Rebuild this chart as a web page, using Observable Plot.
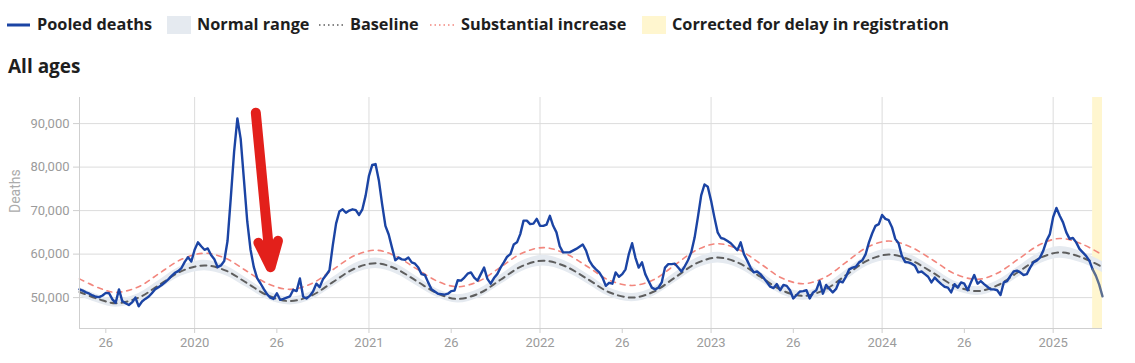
<!DOCTYPE html>
<html><head><meta charset="utf-8">
<script src="https://cdn.jsdelivr.net/npm/d3@7"></script>
<script src="https://cdn.jsdelivr.net/npm/@observablehq/plot@0.6"></script>
<style>
body{margin:0;background:#fff;font-family:"Open Sans",sans-serif;}
#wrap{position:relative;width:1135px;height:363px;overflow:hidden;background:#fff;}
.lg{position:absolute;top:13px;font-weight:700;font-size:16.3px;color:#1e1e1e;line-height:22px;white-space:nowrap;}
.sw{position:absolute;}
#title{position:absolute;left:8px;top:53px;font-weight:700;font-size:19px;color:#1e1e1e;line-height:26px;}
#chart{position:absolute;left:0;top:90px;}
</style></head><body>
<div id="wrap">
  <div id="legend"></div>
  <div id="title">All ages</div>
  <div id="chart"></div>
</div>
<script>
// Week index 0 = ISO week 18 of 2019; weekly pooled deaths (EuroMOMO, all ages)
const pooledDeaths = [
51900,51600,51200,50900,50500,50200,50100,50500,51100,51000,
49600,48800,51900,49200,48700,48300,48900,50000,48000,49100,
49700,50200,51000,51900,52400,52900,53500,54200,55000,55700,
56100,56800,58200,59300,58300,61000,62700,61800,61000,61300,
59800,58800,57000,57400,58400,63000,73000,83500,91200,86500,
77000,67500,61000,57000,54500,53300,52000,50800,50000,49700,
51000,49500,49700,50000,50300,51800,51500,54400,50200,49800,
50400,51400,53200,52400,54200,55200,56300,62000,67000,69800,
70300,69500,70000,70300,70100,69000,70300,73500,78000,80500,
80700,77000,71500,66500,64500,61500,58600,59200,58800,58700,
59200,58100,57800,56900,55400,55200,53500,51900,51400,50900,
50800,50700,50900,51500,51600,54000,53900,54600,55500,55800,
54600,53900,55400,56900,54300,53200,54500,55400,56900,58100,
59400,60000,62200,62700,64600,67700,67700,66900,67000,68100,
66500,66500,66800,68800,66500,65000,61800,60400,60400,60400,
60800,61200,61700,62200,60800,58500,57300,56500,55800,54600,
52700,53400,53200,55800,54800,55400,56500,60000,62500,59200,
56900,58100,55400,53800,52300,51900,52300,53500,56900,57700,
57700,57800,56900,56000,57200,58600,60500,63800,68500,73500,
76000,75500,72300,68500,65000,63700,63500,63000,62500,61700,
60900,62700,60000,58500,56900,55800,56000,55400,54500,53500,
52500,52200,53100,51700,52900,52700,51700,49800,50600,51400,
51500,51700,49800,51200,51700,53800,50900,52900,52000,51200,
52000,53800,53500,54800,56500,56900,57100,58100,58600,60000,
62700,64800,66500,66900,69000,68100,67800,66200,63500,62500,
59600,58200,58100,57800,57300,55800,56000,55400,54800,53500,
54600,53800,53100,52500,52300,51200,53100,52300,53500,53200,
51700,53500,55200,53200,53800,53100,52500,51900,51900,51700,
50600,53500,53800,55000,56000,56200,55800,55200,55400,56900,
58100,58500,59200,60800,63100,64600,68500,70600,68800,67300,
65000,63500,63700,62700,61200,60400,59600,58500,56500,55000,
53000,50300];

// Baseline, normal range and "substantial increase" curves, sampled at these week indexes
const bandWeeks = [0,6,11,18,24.5,31,38,44.5,51,57.5,64,70.5,77,83.5,90,96,102.5,109,115,121.5,128,134.5,141,147.5,154.5,161,168,174.5,181,187.5,194,200.5,207,213.5,220,226.5,233,239.5,246,252.5,259.5,266,273,279,285.5,292,298,304.5,311];
const baseline = [51300,49600,48700,50000,53050,56100,57400,56200,53300,50400,49200,50470,53550,56630,57900,56700,53800,50900,49700,50980,54100,57220,58500,57260,54250,51240,50000,51340,54600,57860,59200,57920,54800,51680,50400,51790,55150,58510,59900,58670,55700,52730,51500,52800,55950,59100,60400,59300,57000];
const rangeLow = [50300,48650,47800,49050,52000,54950,56200,55050,52250,49450,48300,49520,52500,55480,56700,55550,52750,49950,48750,49980,53000,56020,57250,56060,53150,50240,49050,50340,53500,56660,57950,56720,53700,50680,49400,50740,54000,57260,58600,57420,54550,51680,50500,51750,54750,57800,59050,58000,55750];
const rangeHigh = [52300,50550,49600,50950,54100,57250,58600,57350,54350,51350,50100,51420,54600,57780,59100,57850,54850,51850,50650,51980,55200,58420,59750,58460,55350,52240,50950,52340,55700,59060,60450,59120,55900,52680,51400,52840,56300,59760,61200,59920,56850,53780,52500,53850,57150,60400,61750,60600,58250];
const substantial = [54300,52200,51200,52500,55700,58800,60200,59000,56000,53100,51900,53200,56400,59600,60900,59600,56600,53700,52500,53800,57000,60200,61500,60200,57100,54000,52800,54100,57500,60900,62400,61000,57800,54500,53200,54600,58100,61600,63000,61700,58600,55500,54200,55600,58900,62200,63600,62400,59800];

// Axis ticks
const xTickWeeks = [8,35,60,88,113,140,165,192,217,244,269,296];
const xTickLabels = ["26","2020","26","2021","26","2022","26","2023","26","2024","26","2025"];
const yearGridWeeks = [35,88,140,192,244,296];
const yTicks = [50000,60000,70000,80000,90000];
const yDomain = [42900,96000];
const xDomain = [0,311];

// Period corrected for delay in registration (week indexes)
const correctedFrom = [308];
const correctedTo = [311];

// Red annotation arrow (data coordinates: week index, deaths)
const arrowFromWeek = [53.6], arrowFromDeaths = [92500];
const arrowToWeek = [58.1], arrowToDeaths = [57000];

// Legend
const legendLabels = ["Pooled deaths","Normal range","Baseline","Substantial increase","Corrected for delay in registration"];

const C = {blue:"#1b44a4", gray:"#5c6f91", range:"#e5eaf0", base:"#5e5e5e", red:"#f2867d", yellow:"#fff6cf", grid:"#dcdcdc", axis:"#cfcfcf", text:"#9b9b9b"};

// ---- legend (HTML) ----
const lg = document.getElementById("legend");
const swX = [7,167,319,430,642], txX = [37,197,350,461,672];
const swatches = [
  `<svg width="24" height="22"><line x1="0" x2="23" y1="11" y2="11" stroke="${C.blue}" stroke-width="3"/></svg>`,
  `<svg width="24" height="22"><rect x="0" y="2" width="24" height="18" fill="${C.range}"/></svg>`,
  `<svg width="24" height="22"><line x1="0" x2="24" y1="11" y2="11" stroke="${C.base}" stroke-width="1.5" stroke-dasharray="1.5,3"/></svg>`,
  `<svg width="24" height="22"><line x1="0" x2="24" y1="11" y2="11" stroke="${C.red}" stroke-width="1.5" stroke-dasharray="1.5,3"/></svg>`,
  `<svg width="24" height="22"><rect x="0" y="2" width="24" height="18" fill="${C.yellow}"/></svg>`
];
legendLabels.forEach((t,i)=>{
  const s=document.createElement("div"); s.className="sw"; s.style.left=swX[i]+"px"; s.style.top="14px"; s.innerHTML=swatches[i]; lg.appendChild(s);
  const d=document.createElement("div"); d.className="lg"; d.style.left=txX[i]+"px"; d.textContent=t; lg.appendChild(d);
});

// ---- data tables ----
const weekly = pooledDeaths.map((v,i)=>({week:i, deaths:v}));
const mainLine = weekly.filter(d=>d.week<=correctedFrom[0]);
const corrLine = weekly.filter(d=>d.week>=correctedFrom[0]);
const bands = bandWeeks.map((w,i)=>({week:w, base:baseline[i], lo:rangeLow[i], hi:rangeHigh[i], sub:substantial[i]}));
const corrected = correctedFrom.map((a,i)=>({a, b:correctedTo[i]}));
const arrows = arrowFromWeek.map((w,i)=>({x1:w, y1:arrowFromDeaths[i], x2:arrowToWeek[i], y2:arrowToDeaths[i]}));

const chart = Plot.plot({
  width:1135, height:268,
  marginLeft:79, marginRight:33, marginTop:7, marginBottom:30,
  style:{fontFamily:"Roboto, sans-serif", fontSize:"13px", background:"transparent"},
  x:{domain:xDomain},
  y:{domain:yDomain},
  marks:[
    Plot.gridY(yTicks, {stroke:C.grid, strokeOpacity:1}),
    Plot.gridX(yearGridWeeks, {stroke:C.grid, strokeOpacity:1}),
    Plot.rect(corrected, {x1:"a", x2:"b", fill:C.yellow}),
    Plot.areaY(bands, {x:"week", y1:"lo", y2:"hi", fill:C.range, curve:"catmull-rom"}),
    Plot.line(bands, {x:"week", y:"base", stroke:C.base, strokeWidth:2, strokeDasharray:"6,5", curve:"catmull-rom"}),
    Plot.line(bands, {x:"week", y:"sub", stroke:C.red, strokeWidth:1.6, strokeDasharray:"5,5", curve:"catmull-rom"}),
    Plot.line(mainLine, {x:"week", y:"deaths", stroke:C.blue, strokeWidth:2.4}),
    Plot.line(corrLine, {x:"week", y:"deaths", stroke:C.gray, strokeWidth:2.4}),
    Plot.ruleX([xDomain[0]], {stroke:C.axis}),
    Plot.ruleY([yDomain[0]], {stroke:C.axis}),
    Plot.axisY({ticks:yTicks, tickFormat:d3.format(","), tickSize:6, tickPadding:4, color:C.text, stroke:C.axis, label:null, fontSize:13}),
    Plot.axisX({ticks:xTickWeeks, tickFormat:d=>xTickLabels[xTickWeeks.indexOf(d)], tickSize:5, tickPadding:4, color:C.text, stroke:C.axis, label:null, fontSize:13}),
    Plot.text(["Deaths"], {frameAnchor:"left", dx:-64, rotate:-90, text:d=>d, fill:"#ababab", fontSize:14}),
    Plot.arrow(arrows, {x1:"x1", y1:"y1", x2:"x2", y2:"y2", stroke:"#e3201b", strokeWidth:10, headLength:4.1, headAngle:42, strokeLinejoin:"round", strokeLinecap:"round"})
  ]
});
document.getElementById("chart").appendChild(chart);
</script>
</body></html>
